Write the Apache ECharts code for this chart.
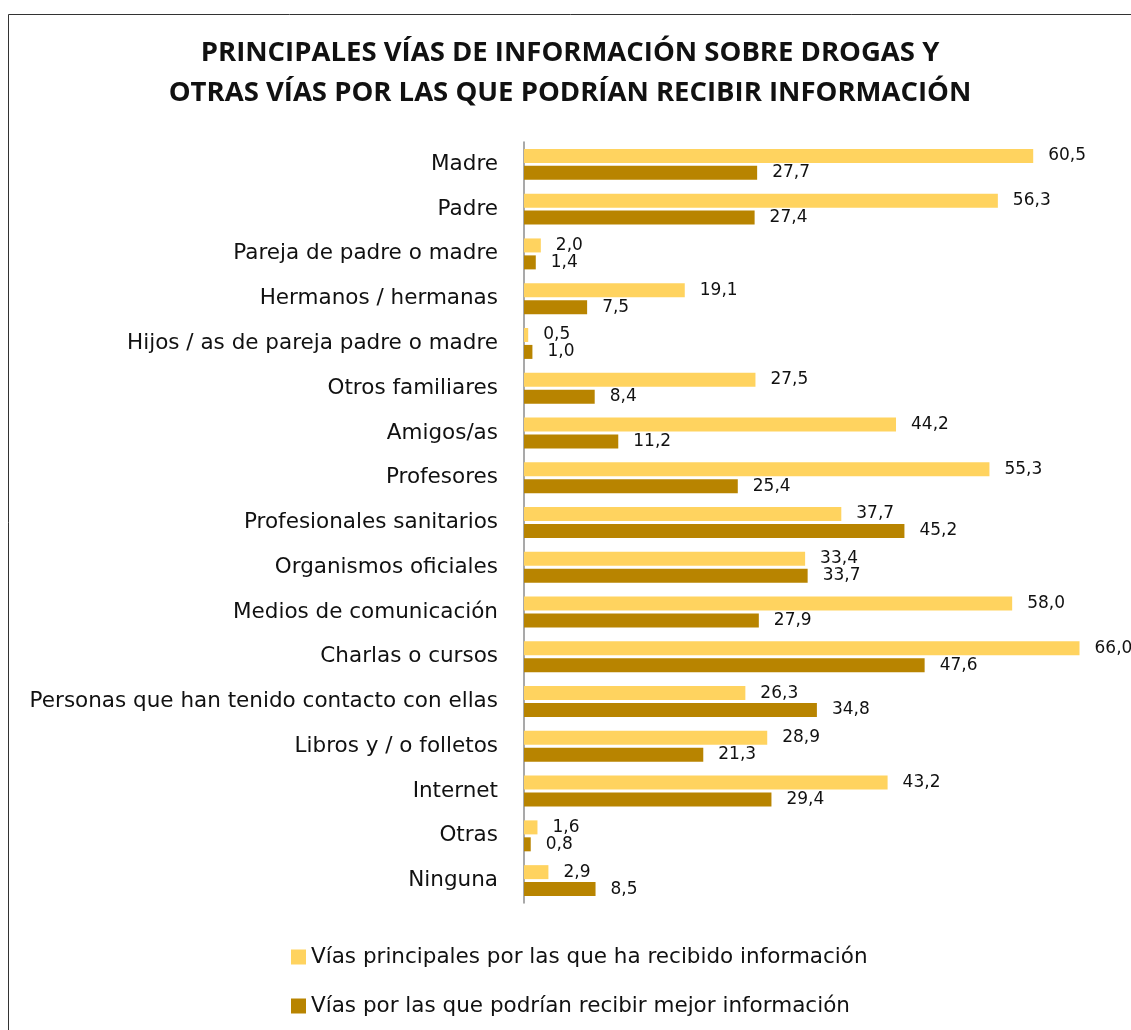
<!DOCTYPE html>
<html>
<head>
<meta charset="utf-8">
<script src="https://cdn.jsdelivr.net/npm/echarts@6/dist/echarts.min.js"></script>
<style>
  html, body { margin: 0; padding: 0; background: #fff; }
  #chart { width: 1131px; height: 1030px; }
</style>
</head>
<body>
<div id="chart"></div>
<script>
// categorías, de arriba abajo
const categorias = [
  'Madre', 'Padre', 'Pareja de padre o madre', 'Hermanos / hermanas',
  'Hijos / as de pareja padre o madre', 'Otros familiares', 'Amigos/as',
  'Profesores', 'Profesionales sanitarios', 'Organismos oficiales',
  'Medios de comunicación', 'Charlas o cursos',
  'Personas que han tenido contacto con ellas', 'Libros y / o folletos',
  'Internet', 'Otras', 'Ninguna'
];
const recibido = [60.5, 56.3, 2.0, 19.1, 0.5, 27.5, 44.2, 55.3, 37.7, 33.4, 58.0, 66.0, 26.3, 28.9, 43.2, 1.6, 2.9];
const mejor = [27.7, 27.4, 1.4, 7.5, 1.0, 8.4, 11.2, 25.4, 45.2, 33.7, 27.9, 47.6, 34.8, 21.3, 29.4, 0.8, 8.5];
const nombres = [
  'Vías principales por las que ha recibido información',
  'Vías por las que podrían recibir mejor información'
];

const FONT = '"DejaVu Sans", sans-serif';
const TITLE_FONT = '"Open Sans", sans-serif';
const fmt = p => p.value.toFixed(1).replace('.', ',');

const chart = echarts.init(document.getElementById('chart'));
chart.setOption({
  animation: false,
  textStyle: { fontFamily: FONT },
  title: {
    text: 'PRINCIPALES VÍAS DE INFORMACIÓN SOBRE DROGAS Y\nOTRAS VÍAS POR LAS QUE PODRÍAN RECIBIR INFORMACIÓN',
    left: 565,
    top: 28,
    textAlign: 'center',
    textStyle: { fontFamily: TITLE_FONT, fontSize: 27.5, fontWeight: 'bold', color: '#111', lineHeight: 40 }
  },
  graphic: [{
    type: 'rect',
    shape: { x: 8.5, y: 14.5, width: 1300, height: 1200 },
    style: { fill: 'none', stroke: '#333', lineWidth: 1 },
    silent: true
  }],
  legend: {
    orient: 'vertical',
    left: 286,
    top: 941,
    itemWidth: 15,
    itemHeight: 15,
    itemGap: 27,
    icon: 'rect',
    textStyle: { fontFamily: FONT, fontSize: 21.5, color: '#111' },
    data: nombres
  },
  grid: { left: 524, top: 142, width: 606, height: 761, containLabel: false },
  xAxis: {
    type: 'value',
    min: 0,
    max: 72,
    show: false
  },
  yAxis: {
    type: 'category',
    inverse: true,
    data: categorias,
    axisLine: { lineStyle: { color: '#8c8c8c', width: 1.5 } },
    axisTick: { length: 6, lineStyle: { color: '#8c8c8c', width: 1.5 } },
    axisLabel: { fontFamily: FONT, fontSize: 21.5, color: '#111', margin: 26 }
  },
  series: [
    {
      name: nombres[0],
      type: 'bar',
      data: recibido,
      barWidth: 14,
      barGap: '21%',
      itemStyle: { color: '#FFD35F' },
      label: { show: true, position: 'right', distance: 15, formatter: fmt, fontFamily: FONT, fontSize: 17, color: '#111' }
    },
    {
      name: nombres[1],
      type: 'bar',
      data: mejor,
      barWidth: 14,
      barGap: '21%',
      itemStyle: { color: '#B88400' },
      label: { show: true, position: 'right', distance: 15, formatter: fmt, fontFamily: FONT, fontSize: 17, color: '#111' }
    }
  ]
});
</script>
</body>
</html>
